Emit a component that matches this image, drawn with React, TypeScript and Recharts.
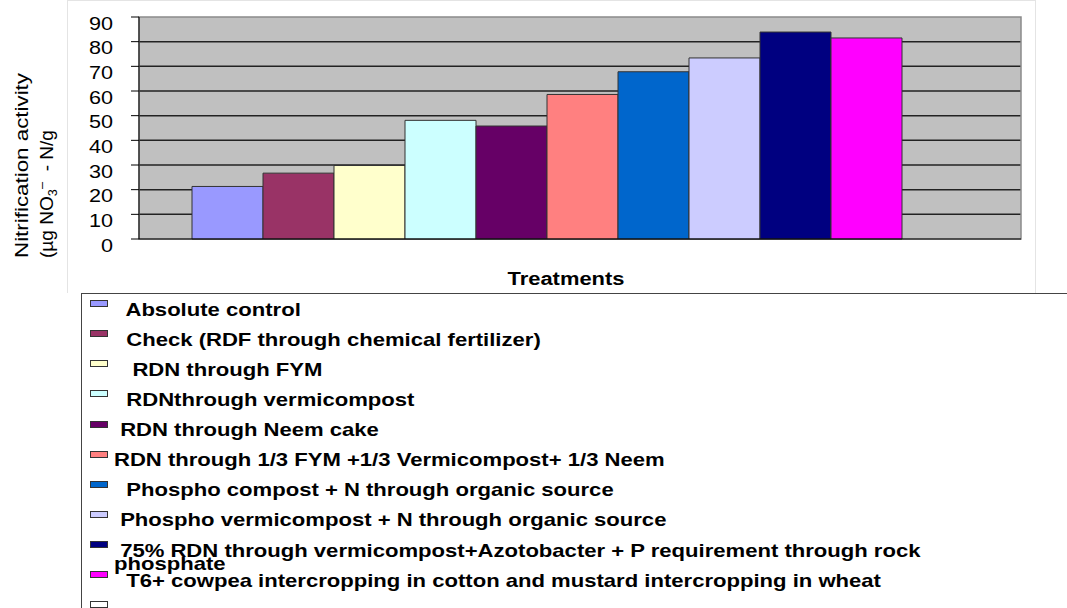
import { BarChart, Bar, XAxis, YAxis, CartesianGrid, Legend, ReferenceArea } from 'recharts'

// page has an 8px body margin by default; the chart fills the whole window
document.body.style.margin = '0'

const FONT = '"Liberation Sans", Arial, sans-serif'

// legend labels (leading spaces kept as in the original sheet)
const TREATMENTS = [
  '  Absolute control',
  '  Check (RDF through chemical fertilizer)',
  '   RDN through FYM',
  '  RDNthrough vermicompost',
  ' RDN through Neem cake',
  'RDN through 1/3 FYM +1/3 Vermicompost+ 1/3 Neem',
  '  Phospho compost + N through organic source',
  ' Phospho vermicompost + N through organic source',
  ' 75% RDN through vermicompost+Azotobacter + P requirement through rock\nphosphate',
  '  T6+ cowpea intercropping in cotton and mustard intercropping in wheat',
  '',
]

// nitrification activity (µg NO3- - N/g)
const ACTIVITY = [21.3, 26.7, 29.8, 48.1, 45.8, 58.6, 67.8, 73.4, 83.9, 81.5, null]

const COLORS = [
  '#9999ff',
  '#993366',
  '#ffffcc',
  '#ccffff',
  '#660066',
  '#ff8080',
  '#0066cc',
  '#ccccff',
  '#000080',
  '#ff00ff',
  '#ffffff',
]

const Y_TICKS = [0, 10, 20, 30, 40, 50, 60, 70, 80, 90]

const data = [
  TREATMENTS.reduce<Record<string, string | number | null>>(
    (row, _, i) => ({ ...row, [`t${i}`]: ACTIVITY[i] }),
    { group: 'Treatments' },
  ),
]

const renderYTick = ({ x, y, payload }: any) => (
  <g transform={`translate(${x},${y + 6.5})`}>
    <text textAnchor="end" dy="0.35em" fontSize={18} fontFamily={FONT} fill="#000" transform="scale(1.2,1)">
      {payload.value}
    </text>
  </g>
)

const renderYTitle = () => (
  <g fontFamily={FONT} fill="#000">
    <text transform="translate(28,258) rotate(-90)" fontSize={18} textLength={185} lengthAdjust="spacingAndGlyphs">
      Nitrification activity
    </text>
    <text
      transform="translate(52.5,258) rotate(-90)"
      fontSize={18}
      textLength={128}
      lengthAdjust="spacingAndGlyphs"
      style={{ whiteSpace: 'pre' }}
    >
      (µg NO
      <tspan fontSize={12} dy={4}>3</tspan>
      <tspan fontSize={12} dy={-11}>–</tspan>
      <tspan dy={7}>{'  - N/g'}</tspan>
    </text>
  </g>
)

const renderXTitle = () => (
  <text
    x={566}
    y={285}
    textAnchor="middle"
    fontSize={18}
    fontWeight="bold"
    fontFamily={FONT}
    fill="#000"
    textLength={117}
    lengthAdjust="spacingAndGlyphs"
  >
    Treatments
  </text>
)

// legend drawn from the arrays (recharts 3 sorts its own payload by name)
const renderLegend = () => (
  <div
    style={{
      boxSizing: 'border-box',
      width: 986,
      height: 315,
      borderLeft: '1px solid #444',
      borderTop: '1px solid #444',
      fontFamily: FONT,
      overflow: 'hidden',
      background: '#fff',
    }}
  >
    {TREATMENTS.map((t, i) => (
      <div key={i} style={{ position: 'relative', height: 30.15 }}>
        <span
          style={{
            position: 'absolute',
            left: 8,
            top: 6,
            width: 18,
            height: 7,
            boxSizing: 'border-box',
            border: '1px solid #333',
            background: COLORS[i],
          }}
        />
        <span
          style={{
            position: 'absolute',
            left: 32,
            top: 8.5,
            lineHeight: '13px',
            whiteSpace: 'pre',
            fontSize: 18.4,
            fontWeight: 'bold',
            color: '#000',
            transform: 'scaleX(1.2)',
            transformOrigin: 'left top',
          }}
        >
          {t}
        </span>
      </div>
    ))}
  </div>
)

export default function App() {
  return (
    <div style={{ position: 'relative', width: 1067, height: 608, overflow: 'hidden', background: '#fff' }}>
      {/* faint outline of the chart area */}
      <div
        style={{
          position: 'absolute',
          left: 67,
          top: 0,
          width: 969,
          height: 293,
          boxSizing: 'border-box',
          border: '1px solid #e4e4e4',
          borderBottom: 'none',
        }}
      />
      <BarChart
        width={1067}
        height={608}
        data={data}
        margin={{ top: 17, right: 46, left: 79, bottom: 319 }}
        barCategoryGap={53}
        barGap={0}
      >
        <CartesianGrid vertical={false} fill="#c0c0c0" stroke="#222" strokeWidth={1.5} horizontalValues={Y_TICKS.slice(1, -1)} />
        <ReferenceArea y1={0} y2={90} fill="none" stroke="#8a8a8a" strokeWidth={1.5} />
        <XAxis
          dataKey="group"
          height={50}
          tick={false}
          tickLine={false}
          axisLine={{ stroke: '#000' }}
          label={renderXTitle}
        />
        <YAxis
          width={60}
          domain={[0, 90]}
          ticks={Y_TICKS}
          interval={0}
          tickSize={8}
          tickMargin={18}
          axisLine={{ stroke: '#000' }}
          tickLine={{ stroke: '#000' }}
          tick={renderYTick}
          label={renderYTitle}
        />
        <Legend
          layout="vertical"
          align="center"
          verticalAlign="middle"
          wrapperStyle={{ left: 81, top: 293, width: 986, height: 315 }}
          content={renderLegend}
        />
        {TREATMENTS.map((name, i) => (
          <Bar
            key={i}
            dataKey={`t${i}`}
            name={name.trim()}
            fill={COLORS[i]}
            stroke="#333"
            strokeWidth={1}
            isAnimationActive={false}
          />
        ))}
      </BarChart>
    </div>
  )
}
